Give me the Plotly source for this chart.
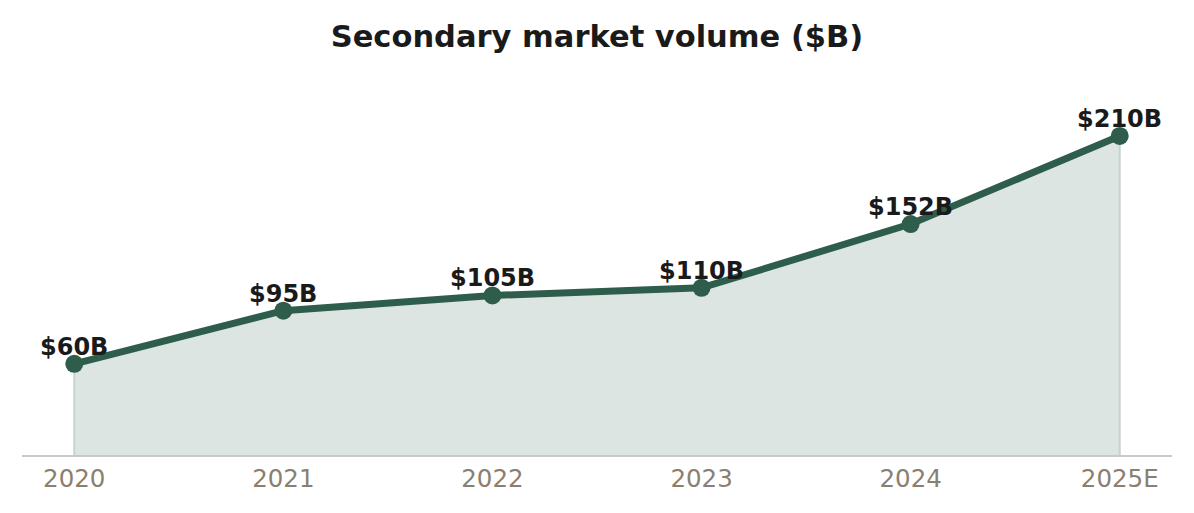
import plotly.graph_objects as go

years = ["2020", "2021", "2022", "2023", "2024", "2025E"]
volume = [60, 95, 105, 110, 152, 210]
labels = ["$60B", "$95B", "$105B", "$110B", "$152B", "$210B"]

GREEN = "#2e5e4b"
FILL = "rgba(46,94,75,0.16)"

fig = go.Figure()

# area with faint outline
fig.add_trace(go.Scatter(
    x=[years[0]] + years + [years[-1]],
    y=[0] + volume + [0],
    mode="lines",
    line=dict(color="rgba(200,210,205,1)", width=2),
    fill="toself",
    fillcolor=FILL,
    hoverinfo="skip",
    showlegend=False,
))

fig.add_trace(go.Scatter(
    x=years,
    y=volume,
    mode="lines+markers",
    line=dict(color=GREEN, width=7),
    marker=dict(color=GREEN, size=18),
    showlegend=False,
))

# category axis: annotations placed by category index
for i, (yv, lab) in enumerate(zip(volume, labels)):
    fig.add_annotation(
        x=i, y=yv, text=f"<b>{lab}</b>",
        showarrow=False, xanchor="center", yanchor="bottom", yshift=1,
        font=dict(family="DejaVu Sans", size=24, color="#1a1a1a"),
    )

fig.update_layout(
    width=1186,
    height=505,
    margin=dict(l=14, r=22, t=62, b=58),
    paper_bgcolor="white",
    plot_bgcolor="white",
    font=dict(family="DejaVu Sans"),
    title=dict(
        text="<b>Secondary market volume ($B)</b>",
        x=(597 - 8) / 1186, xanchor="center",
        y=1 - 28 / 505, yanchor="middle", yref="container",
        font=dict(family="DejaVu Sans", size=30.5, color="#1a1a1a"),
    ),
    xaxis=dict(
        type="category",
        range=[-0.25, 5.25],
        showgrid=False,
        zeroline=False,
        showline=True,
        linecolor="#c9c9c6",
        linewidth=2,
        ticks="outside",
        ticklen=1,
        tickcolor="rgba(0,0,0,0)",
        tickfont=dict(family="DejaVu Sans", size=24.5, color="#8a7f70"),
    ),
    yaxis=dict(
        range=[0, 253.4],
        visible=False,
        showgrid=False,
        zeroline=False,
    ),
)

fig.write_html("out.html")
